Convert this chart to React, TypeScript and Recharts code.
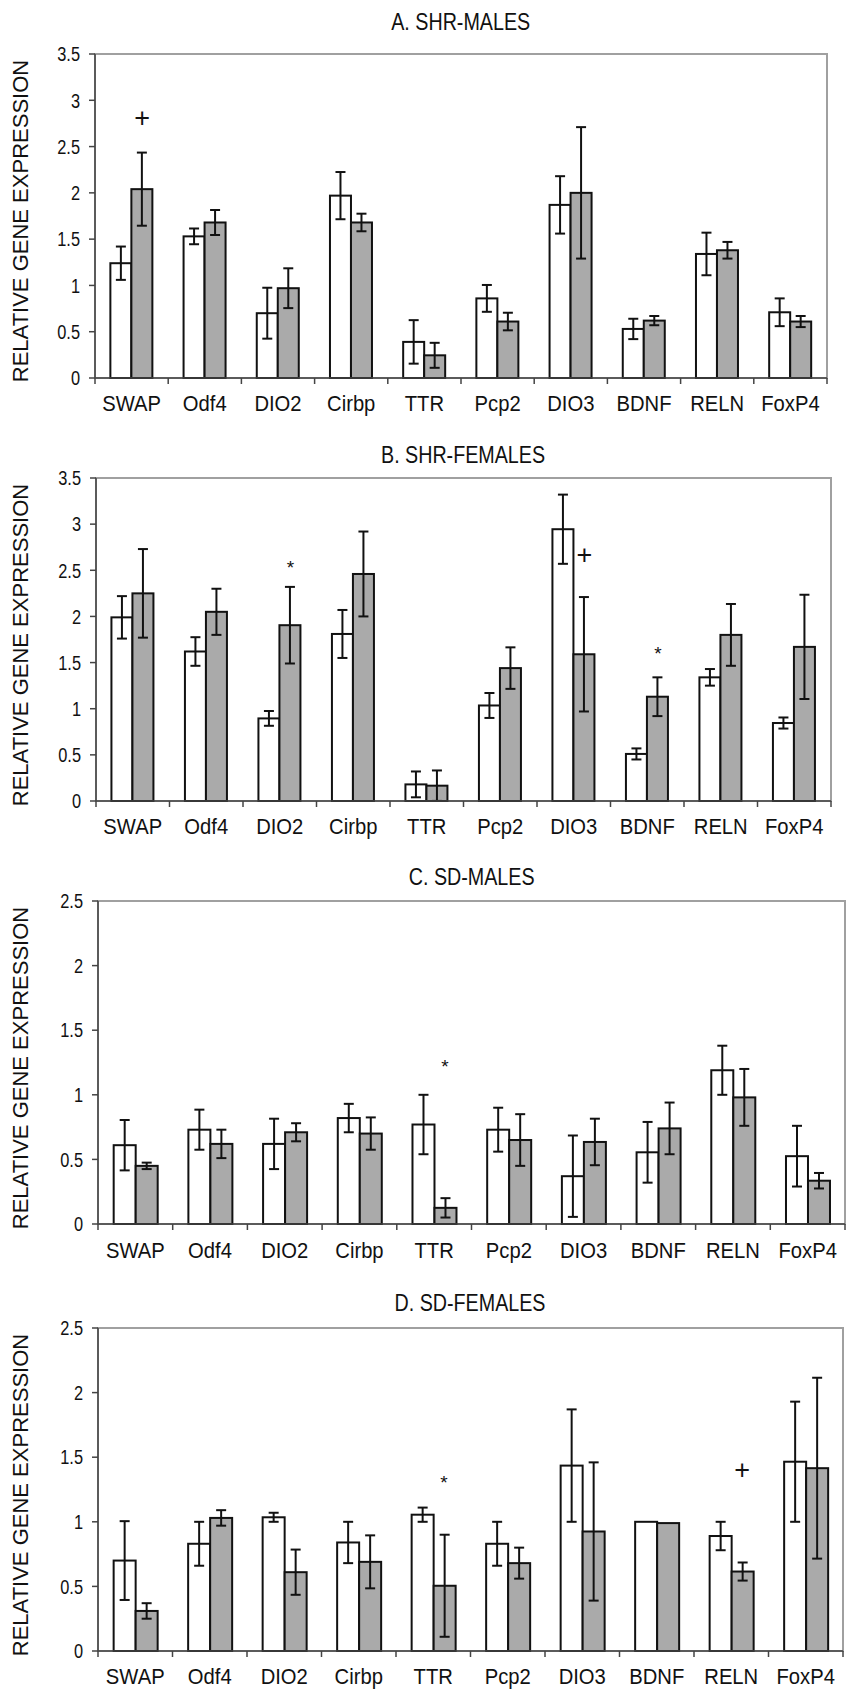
import React from "react";
import { ComposedChart, Bar, XAxis, YAxis, Scatter, ReferenceArea } from "recharts";

const GENES = ["SWAP", "Odf4", "DIO2", "Cirbp", "TTR", "Pcp2", "DIO3", "BDNF", "RELN", "FoxP4"];

// A. SHR males
const shrMaleWhite = [1.24, 1.53, 0.7, 1.97, 0.39, 0.86, 1.87, 0.53, 1.34, 0.71];
const shrMaleWhiteErr = [0.18, 0.085, 0.275, 0.255, 0.235, 0.145, 0.31, 0.11, 0.23, 0.15];
const shrMaleGray = [2.04, 1.68, 0.97, 1.68, 0.245, 0.61, 2.0, 0.62, 1.38, 0.61];
const shrMaleGrayErr = [0.395, 0.135, 0.215, 0.095, 0.135, 0.095, 0.71, 0.05, 0.09, 0.06];
const shrMaleMarks = ["+", "", "", "", "", "", "", "", "", ""];
const shrMaleMarkY = [2.81, null, null, null, null, null, null, null, null, null];

// B. SHR females
const shrFemaleWhite = [1.99, 1.62, 0.895, 1.81, 0.18, 1.035, 2.945, 0.51, 1.34, 0.845];
const shrFemaleWhiteErr = [0.23, 0.155, 0.08, 0.26, 0.14, 0.135, 0.375, 0.06, 0.09, 0.06];
const shrFemaleGray = [2.25, 2.05, 1.905, 2.46, 0.166, 1.44, 1.59, 1.13, 1.8, 1.67];
const shrFemaleGrayErr = [0.48, 0.25, 0.415, 0.46, 0.165, 0.225, 0.62, 0.21, 0.335, 0.565];
const shrFemaleMarks = ["", "", "*", "", "", "", "+", "*", "", ""];
const shrFemaleMarkY = [null, null, 2.58, null, null, null, 2.67, 1.65, null, null];

// C. SD males
const sdMaleWhite = [0.61, 0.73, 0.62, 0.82, 0.77, 0.73, 0.37, 0.555, 1.19, 0.525];
const sdMaleWhiteErr = [0.195, 0.155, 0.195, 0.11, 0.23, 0.17, 0.315, 0.235, 0.19, 0.235];
const sdMaleGray = [0.45, 0.62, 0.71, 0.7, 0.125, 0.65, 0.635, 0.74, 0.98, 0.335];
const sdMaleGrayErr = [0.025, 0.11, 0.07, 0.125, 0.075, 0.2, 0.18, 0.2, 0.22, 0.06];
const sdMaleMarks = ["", "", "", "", "*", "", "", "", "", ""];
const sdMaleMarkY = [null, null, null, null, 1.255, null, null, null, null, null];

// D. SD females
const sdFemaleWhite = [0.7, 0.83, 1.035, 0.84, 1.055, 0.83, 1.435, 1.0, 0.89, 1.465];
const sdFemaleWhiteErr = [0.305, 0.17, 0.035, 0.16, 0.055, 0.17, 0.435, 0, 0.11, 0.465];
const sdFemaleGray = [0.31, 1.03, 0.61, 0.69, 0.505, 0.68, 0.925, 0.99, 0.615, 1.415];
const sdFemaleGrayErr = [0.06, 0.06, 0.175, 0.205, 0.395, 0.12, 0.535, 0, 0.07, 0.7];
const sdFemaleMarks = ["", "", "", "", "*", "", "", "", "+", ""];
const sdFemaleMarkY = [null, null, null, null, 1.34, null, null, null, 1.4, null];

const TICKS_35 = [0, 0.5, 1, 1.5, 2, 2.5, 3, 3.5];
const TICKS_25 = [0, 0.5, 1, 1.5, 2, 2.5];

const SANS = "'Liberation Sans', Arial, Helvetica, sans-serif";
const W = 852;
const INK = "#111";
const AXIS = "#444";

const rows = (white, whiteErr, gray, grayErr, marks, markY) =>
  GENES.map((gene, i) => ({
    gene,
    white: white[i],
    whiteErr: whiteErr[i],
    gray: gray[i],
    grayErr: grayErr[i],
    mark: marks[i],
    markY: markY[i],
  }));

const panels = [
  {
    title: "A. SHR-MALES", titleTop: 8,
    top: 0, height: 420, mTop: 54, mRight: 25, yw: 95, xh: 42, labelGap: 25,
    ticks: TICKS_35,
    data: rows(shrMaleWhite, shrMaleWhiteErr, shrMaleGray, shrMaleGrayErr, shrMaleMarks, shrMaleMarkY),
  },
  {
    title: "B. SHR-FEMALES", titleTop: 21,
    top: 420, height: 420, mTop: 58, mRight: 21, yw: 96, xh: 39, labelGap: 25,
    ticks: TICKS_35,
    data: rows(shrFemaleWhite, shrFemaleWhiteErr, shrFemaleGray, shrFemaleGrayErr, shrFemaleMarks, shrFemaleMarkY),
  },
  {
    title: "C. SD-MALES", titleTop: 23,
    top: 840, height: 425, mTop: 61, mRight: 7, yw: 98, xh: 41, labelGap: 26,
    ticks: TICKS_25,
    data: rows(sdMaleWhite, sdMaleWhiteErr, sdMaleGray, sdMaleGrayErr, sdMaleMarks, sdMaleMarkY),
  },
  {
    title: "D. SD-FEMALES", titleTop: 24,
    top: 1265, height: 425, mTop: 63, mRight: 9, yw: 98, xh: 39, labelGap: 25,
    ticks: TICKS_25,
    data: rows(sdFemaleWhite, sdFemaleWhiteErr, sdFemaleGray, sdFemaleGrayErr, sdFemaleMarks, sdFemaleMarkY),
  },
];

const makeGeneTick = (band: number, gap: number) => (props: any) => {
  const { x, y, payload, index } = props;
  return (
    <g>
      <line x1={x - band / 2} x2={x - band / 2} y1={y} y2={y + 6} stroke={AXIS} strokeWidth={1.5} />
      {index === GENES.length - 1 && (
        <line x1={x + band / 2} x2={x + band / 2} y1={y} y2={y + 6} stroke={AXIS} strokeWidth={1.5} />
      )}
      <text
        transform={`translate(${x},${y + gap}) scale(0.92,1)`}
        textAnchor="middle"
        dominantBaseline="central"
        fontFamily={SANS}
        fontSize={22}
        fill={INK}
      >
        {payload.value}
      </text>
    </g>
  );
};

const ValueTick = (props: any) => {
  const { x, y, payload } = props;
  return (
    <text
      transform={`translate(${x},${y}) scale(0.78,1)`}
      textAnchor="end"
      dominantBaseline="central"
      fontFamily={SANS}
      fontSize={21}
      fill={INK}
    >
      {payload.value}
    </text>
  );
};

// bar outline plus its error bar, error length taken from the bar's own pixel scale
const makeBarShape = (valKey: string, errKey: string, fill: string) => (props: any) => {
  const { x, y, width, height, payload } = props;
  const v = payload[valKey];
  const e = payload[errKey];
  const k = v ? height / v : 0;
  const cx = x + width / 2;
  const hi = y - e * k;
  const lo = y + e * k;
  return (
    <g>
      <rect x={x} y={y} width={width} height={height} fill={fill} stroke={INK} strokeWidth={2} />
      {e > 0 && (
        <g stroke={INK} strokeWidth={2}>
          <line x1={cx} x2={cx} y1={hi} y2={lo} />
          <line x1={cx - 5} x2={cx + 5} y1={hi} y2={hi} />
          <line x1={cx - 5} x2={cx + 5} y1={lo} y2={lo} />
        </g>
      )}
    </g>
  );
};

const makeMark = (dx: number) => (props: any) => {
  const { cx, cy, payload } = props;
  if (!payload || !payload.mark || cy == null || isNaN(cy)) return <g />;
  const star = payload.mark === "*";
  return (
    <text
      x={cx + dx}
      y={cy + (star ? 11 : 9)}
      textAnchor="middle"
      fontFamily={SANS}
      fontSize={star ? 19 : 27}
      fill={INK}
    >
      {payload.mark}
    </text>
  );
};

const Panel = ({ p }: any) => {
  const plotW = W - p.yw - p.mRight;
  const band = plotW / GENES.length;
  const plotTop = p.top + p.mTop;
  const plotBottom = p.top + p.height - p.xh;
  const yMax = p.ticks[p.ticks.length - 1];
  return (
    <>
      <div
        style={{
          position: "absolute", left: p.yw, width: plotW, top: p.top + p.titleTop,
          textAlign: "center", fontFamily: SANS, fontSize: 24, lineHeight: "28px", color: INK,
          whiteSpace: "nowrap",
        }}
      >
        <span style={{ display: "inline-block", transform: "scaleX(0.82)" }}>{p.title}</span>
      </div>
      <div
        style={{
          position: "absolute", left: 21 - 200, width: 400, top: (plotTop + plotBottom) / 2 + 5 - 12,
          textAlign: "center", fontFamily: SANS, fontSize: 22, lineHeight: "24px", color: INK,
          transform: "rotate(-90deg)", whiteSpace: "nowrap",
        }}
      >
        RELATIVE GENE EXPRESSION
      </div>
      <div style={{ position: "absolute", left: 0, top: p.top }}>
        <ComposedChart
          width={W}
          height={p.height}
          data={p.data}
          margin={{ top: p.mTop, right: p.mRight, left: 0, bottom: 0 }}
          barCategoryGap="21%"
          barGap={0}
        >
          <ReferenceArea y1={0} y2={yMax} fill="none" stroke="#a0a0a0" strokeWidth={2} ifOverflow="visible" />
          <XAxis
            dataKey="gene"
            height={p.xh}
            interval={0}
            tickSize={0}
            tickMargin={0}
            tickLine={false}
            axisLine={{ stroke: AXIS, strokeWidth: 1.5 }}
            tick={makeGeneTick(band, p.labelGap)}
          />
          <YAxis
            width={p.yw}
            domain={[0, yMax]}
            ticks={p.ticks}
            interval={0}
            tickSize={6}
            tickMargin={9}
            axisLine={{ stroke: AXIS, strokeWidth: 1.5 }}
            tickLine={{ stroke: AXIS, strokeWidth: 1.5 }}
            tick={<ValueTick />}
          />
          <Bar dataKey="white" shape={makeBarShape("white", "whiteErr", "#ffffff")} isAnimationActive={false} />
          <Bar dataKey="gray" shape={makeBarShape("gray", "grayErr", "#aaaaaa")} isAnimationActive={false} />
          <Scatter dataKey="markY" shape={makeMark(band * 0.145)} isAnimationActive={false} />
        </ComposedChart>
      </div>
    </>
  );
};

export default function App() {
  return (
    <div style={{ position: "absolute", left: 0, top: 0, width: W, height: 1690, background: "#fff" }}>
      {panels.map((p) => (
        <Panel key={p.title} p={p} />
      ))}
    </div>
  );
}
